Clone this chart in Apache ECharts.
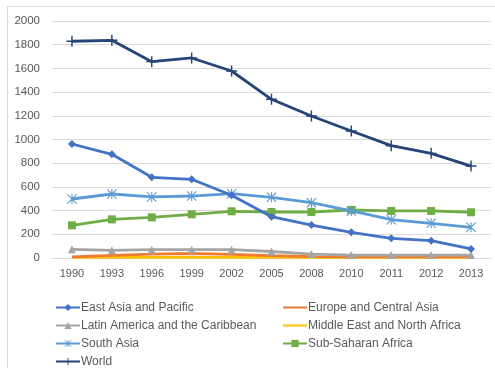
<!DOCTYPE html>
<html>
<head>
<meta charset="utf-8">
<script src="https://cdn.jsdelivr.net/npm/echarts@6/dist/echarts.min.js"></script>
<style>
  html, body { margin: 0; padding: 0; background: #fff; }
  #chart { width: 495px; height: 368px; }
</style>
</head>
<body>
<div id="chart"></div>
<script>
// Years on the category axis
const years = ['1990', '1993', '1996', '1999', '2002', '2005', '2008', '2010', '2011', '2012', '2013'];

// Values per region
const eastAsiaPacific = [962, 875, 681, 664, 529, 349, 278, 217, 166, 146, 76];
const europeCentralAsia = [10, 22, 32, 38, 30, 20, 12, 10, 10, 10, 10];
const latinAmericaCaribbean = [73, 65, 70, 70, 70, 55, 33, 25, 25, 25, 25];
const middleEastNorthAfrica = [5, 6, 6, 5, 6, 6, 6, 6, 6, 6, 6];
const southAsia = [498, 540, 515, 523, 543, 512, 467, 397, 323, 293, 259];
const subSaharanAfrica = [276, 326, 343, 369, 394, 388, 388, 405, 397, 397, 386];
const world = [1829, 1837, 1657, 1688, 1578, 1339, 1198, 1072, 948, 883, 776];

// Y axis ticks
const yTicks = { min: 0, max: 2000, interval: 200 };

const labelColor = '#595959';
const font = 'Liberation Sans';

// Thin plus and asterisk marks drawn as filled paths
const plusPath = 'path://M4.35,0h1.3v10h-1.3zM0,4.35h10v1.3h-10z';
const starPath = 'path://M4.45,0h1.1v10h-1.1zM0,0.8L0.8,0L10,9.2L9.2,10zM9.2,0L10,0.8L0.8,10L0,9.2z';

function line(name, data, color, symbol, symbolSize, z) {
  return {
    name: name,
    type: 'line',
    data: data,
    symbol: symbol,
    symbolSize: symbolSize,
    z: z,
    lineStyle: { color: color, width: 2.8 },
    itemStyle: { color: color, borderWidth: 0 },
    emphasis: { disabled: true },
    animation: false
  };
}

const series = [
  line('Middle East and North Africa', middleEastNorthAfrica, '#FFC000', 'none', 0, 2),
  line('Europe and Central Asia', europeCentralAsia, '#ED7D31', 'none', 0, 3),
  line('Latin America and the Caribbean', latinAmericaCaribbean, '#A5A5A5', 'triangle', 8, 4),
  line('Sub-Saharan Africa', subSaharanAfrica, '#70AD47', 'rect', 8, 5),
  line('South Asia', southAsia, '#5B9BD5', starPath, 10, 6),
  line('East Asia and Pacific', eastAsiaPacific, '#4472C4', 'diamond', 8, 7),
  line('World', world, '#264478', plusPath, 11, 8)
];

const legendCommon = {
  orient: 'vertical',
  itemWidth: 24,
  itemHeight: 9,
  itemGap: 5,
  height: 120,
  selectedMode: false,
  textStyle: { color: labelColor, fontSize: 12, lineHeight: 13, fontFamily: font, padding: [0, 0, 0, -4] },
  padding: 0
};

// Lines without markers get a plain stroke in the legend
const plainItem = (name) => ({ name: name, itemStyle: { opacity: 0 } });

const chart = echarts.init(document.getElementById('chart'), null, { renderer: 'canvas' });
chart.setOption({
  backgroundColor: '#fff',
  animation: false,
  graphic: [{
    type: 'rect',
    shape: { x: 7.5, y: 6.5, width: 500, height: 400 },
    style: { fill: 'none', stroke: '#d9d9d9', lineWidth: 1 },
    silent: true
  }],
  grid: { left: 52, right: 4, top: 21, bottom: 110, containLabel: false },
  legend: [
    Object.assign({}, legendCommon, {
      left: 55, top: 301,
      data: ['East Asia and Pacific', 'Latin America and the Caribbean', 'South Asia', 'World']
    }),
    Object.assign({}, legendCommon, {
      left: 282, top: 301,
      data: [plainItem('Europe and Central Asia'), plainItem('Middle East and North Africa'), 'Sub-Saharan Africa']
    })
  ],
  xAxis: {
    type: 'category',
    data: years,
    boundaryGap: true,
    axisLine: { show: true, lineStyle: { color: '#d9d9d9' } },
    axisTick: { show: false },
    axisLabel: { color: labelColor, fontSize: 11, fontFamily: font, margin: 10, interval: 0 }
  },
  yAxis: {
    type: 'value',
    min: yTicks.min,
    max: yTicks.max,
    interval: yTicks.interval,
    axisLine: { show: false },
    axisTick: { show: false },
    splitLine: { lineStyle: { color: '#d9d9d9', width: 1 } },
    axisLabel: { color: labelColor, fontSize: 11.5, fontFamily: font, margin: 12, formatter: (v) => String(v) }
  },
  series: series
});
</script>
</body>
</html>
